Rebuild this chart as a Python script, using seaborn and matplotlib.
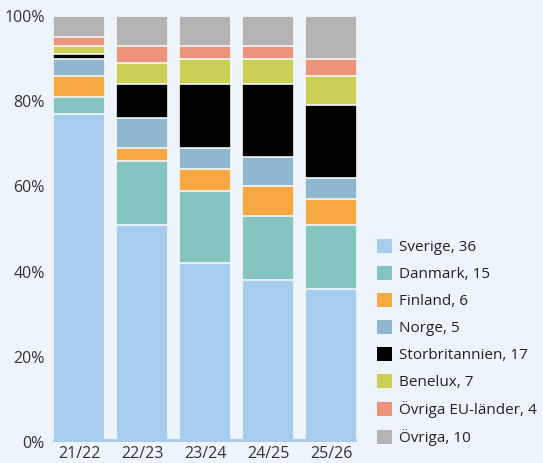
import matplotlib
matplotlib.use("Agg")
import matplotlib.pyplot as plt
import seaborn as sns
import numpy as np
import pandas as pd
from matplotlib.patches import Patch

# ---- data ----
periods = ["21/22", "22/23", "23/24", "24/25", "25/26"]
series_names = ["Sverige", "Danmark", "Finland", "Norge", "Storbritannien",
                "Benelux", "Övriga EU-länder", "Övriga"]
sverige = [77, 51, 42, 38, 36]
danmark = [4, 15, 17, 15, 15]
finland = [5, 3, 5, 7, 6]
norge = [4, 7, 5, 7, 5]
storbritannien = [1, 8, 15, 17, 17]
benelux = [2, 5, 6, 6, 7]
ovriga_eu = [2, 4, 3, 3, 4]
ovriga = [5, 7, 7, 7, 10]
legend_values = [36, 15, 6, 5, 17, 7, 4, 10]
yticks = [0, 20, 40, 60, 80, 100]
ytick_labels = ["0%", "20%", "40%", "60%", "80%", "100%"]

colors = ["#A6CDED", "#86C4C2", "#F7A941", "#8FB7CE", "#000000",
          "#CCCF55", "#EC947A", "#B3B3B3"]
bg = "#EEF4FB"

sns.set_style("white")
plt.rcParams["font.family"] = ["Open Sans", "DejaVu Sans"]

all_series = [sverige, danmark, finland, norge, storbritannien,
              benelux, ovriga_eu, ovriga]
df = pd.DataFrame({name: vals for name, vals in zip(series_names, all_series)})
df["period"] = periods
cum = df[series_names].cumsum(axis=1)

fig = plt.figure(figsize=(5.43, 4.63), dpi=100, facecolor=bg)
ax = fig.add_axes([53 / 543, (463 - 442) / 463, 304 / 543, 426 / 463])
ax.set_facecolor(bg)

# draw cumulative bars from top-most series downward so each overlays the previous
for name, col in reversed(list(zip(series_names, colors))):
    sns.barplot(x=df["period"], y=cum[name], order=periods, color=col,
                saturation=1, width=0.825, edgecolor="#F4F8FC", linewidth=1.2,
                ax=ax, zorder=2)

ax.axhspan(0, 0.75, color=colors[0], zorder=3, lw=0)

ax.set_xlim(-0.4127, 4.4127)
ax.set_ylim(0, 100)
ax.set_yticks(yticks)
ax.set_yticklabels(ytick_labels)
ax.set_xlabel("")
ax.set_ylabel("")
for s in ax.spines.values():
    s.set_visible(False)
ax.tick_params(axis="both", length=0, labelsize=11.5, colors="#333333")
ax.tick_params(axis="y", pad=6)
ax.tick_params(axis="x", pad=3)

handles = [Patch(facecolor=c, edgecolor="none") for c in colors]
labels = [f"{n}, {v}" for n, v in zip(series_names, legend_values)]
fig.legend(handles, labels, loc="upper left",
           bbox_to_anchor=(377 / 543, 1 - 239 / 463),
           frameon=False, fontsize=11, handlelength=1.0, handleheight=1.0,
           handletextpad=0.45, labelspacing=0.72, borderpad=0, borderaxespad=0,
           labelcolor="#222222")

fig.savefig("out.png", dpi=100, facecolor=bg)
